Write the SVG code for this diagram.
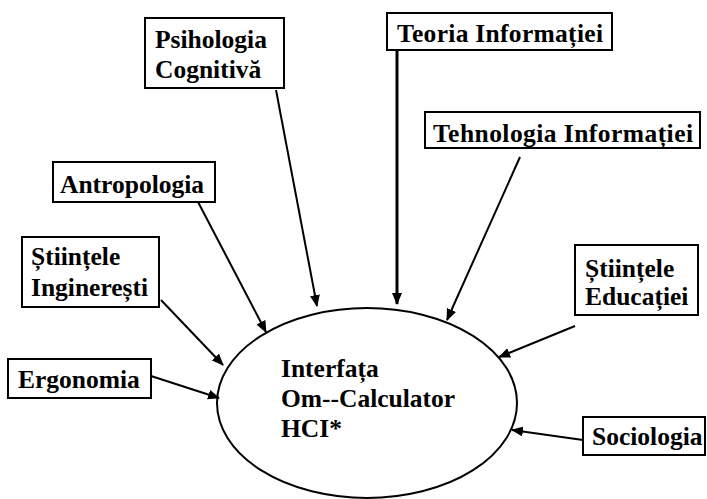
<svg xmlns="http://www.w3.org/2000/svg" width="707" height="499" viewBox="0 0 707 499">
<style>
.box{fill:#fff;stroke:#000;stroke-width:2}
.t{font-family:"Liberation Serif","Times New Roman",serif;font-weight:bold;font-size:25.5px;fill:#000}
.c{stroke:#000;stroke-width:2;fill:none;marker-end:url(#ah)}
</style>
<defs>
<marker id="ah" markerWidth="12" markerHeight="10" refX="11" refY="5" orient="auto" markerUnits="userSpaceOnUse">
<path d="M0,0 L12,5 L0,10 Z" fill="#000"/>
</marker>
</defs>
<rect width="707" height="499" fill="#fff"/>
<g id="connectors">
<line class="c" x1="276" y1="90" x2="317" y2="306"/>
<line class="c" x1="397" y1="50" x2="397" y2="304" style="stroke-width:3"/>
<line class="c" x1="520" y1="157" x2="447" y2="320"/>
<line class="c" x1="197" y1="200" x2="266" y2="332"/>
<line class="c" x1="161" y1="300" x2="223" y2="365"/>
<line class="c" x1="151" y1="376" x2="219" y2="398"/>
<line class="c" x1="575" y1="326" x2="499" y2="357"/>
<line class="c" x1="583" y1="440" x2="512" y2="430"/>
</g>
<g id="hci">
<ellipse cx="367" cy="403" rx="150" ry="95" fill="none" stroke="#000" stroke-width="2"/>
<text class="t" x="281" y="377">Interfața</text>
<text class="t" x="281" y="407" textLength="174">Om--Calculator</text>
<text class="t" x="281" y="437">HCI*</text>
</g>
<g id="psihologia">
<rect class="box" x="145" y="18" width="139" height="70"/>
<text class="t" x="155" y="48">Psihologia</text>
<text class="t" x="155" y="78">Cognitivă</text>
</g>
<g id="teoria">
<rect class="box" x="387" y="13" width="225" height="37"/>
<text class="t" x="397" y="42" textLength="206">Teoria Informației</text>
</g>
<g id="tehnologia">
<rect class="box" x="425" y="112" width="275" height="36"/>
<text class="t" x="433" y="142" textLength="260">Tehnologia Informației</text>
</g>
<g id="antropologia">
<rect class="box" x="53" y="162" width="162" height="40"/>
<text class="t" x="60" y="193">Antropologia</text>
</g>
<g id="inginerești">
<rect class="box" x="22" y="237" width="137" height="70"/>
<text class="t" x="31" y="265">Științele</text>
<text class="t" x="31" y="296">Inginerești</text>
</g>
<g id="educatiei">
<rect class="box" x="575" y="245" width="123" height="70"/>
<text class="t" x="585" y="277">Științele</text>
<text class="t" x="585" y="305">Educației</text>
</g>
<g id="ergonomia">
<rect class="box" x="8" y="359" width="143" height="39"/>
<text class="t" x="18" y="388">Ergonomia</text>
</g>
<g id="sociologia">
<rect class="box" x="583" y="417" width="122" height="38"/>
<text class="t" x="592" y="445">Sociologia</text>
</g>
</svg>
